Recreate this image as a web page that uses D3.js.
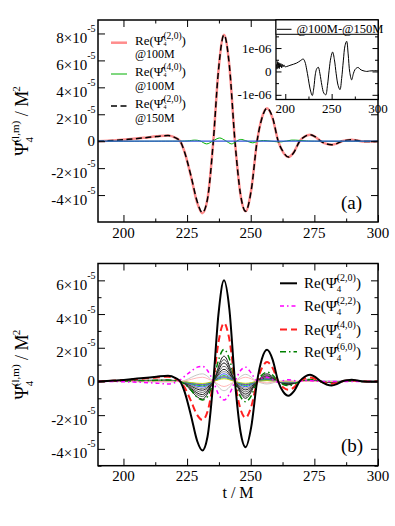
<!DOCTYPE html>
<html><head><meta charset="utf-8">
<script src="https://cdn.jsdelivr.net/npm/d3@7"></script>
<style>
body{margin:0;background:#fff}
svg{display:block}
svg text{font-family:"Liberation Serif","Times New Roman",Times,serif;fill:#000}
</style>
</head><body>
<svg id="c" width="395" height="526" font-family="Liberation Serif, Times New Roman, Times, serif"></svg>
<script>
// ---------------- DATA ----------------
// shared time grid for the main curves (t / M)
const tMain = [190,196,202,208,213,217.5,220.5,222.3,224,226.5,229,231,233,235.3,237.3,239.5,241.6,243.8,246,248,250.2,252.5,254.4,256.4,258.6,260.8,262.8,264.8,267,269.2,271.2,273.3,275.3,277.5,279.8,281.8,283.8,285.8,287.8,289.7,292,294.5,297,300];
// panel (a), values in units of 1e-5
const a_re20_100 = [0,0.06,0.14,0.25,0.36,0.43,0.25,0,-0.8,-2.6,-4.6,-5.35,-4.3,0,5.2,7.9,5.6,0,-4.0,-5.2,-3.6,0,1.75,2.45,1.7,0,-0.85,-1.17,-0.8,0,0.35,0.48,0.33,0,-0.2,-0.26,-0.18,0,0.08,0.11,0.05,-0.02,-0.02,0];
const a_re20_150 = [0,0.06,0.14,0.25,0.35,0.42,0.24,0,-0.8,-2.55,-4.5,-5.3,-4.3,0,5.2,7.9,5.65,0,-3.95,-5.2,-3.65,0,1.7,2.45,1.75,0,-0.8,-1.18,-0.82,0,0.34,0.48,0.33,0,-0.2,-0.26,-0.18,0,0.08,0.11,0.05,-0.02,-0.02,0];
const a_re40_t = [190,215,225,228,230,232.7,235,237.8,240,242.5,244,246,248,250.8,253,255,258,262,266,269,272,275,300];
const a_re40_100 = [0,0,0.02,0.08,0.03,-0.2,0,0.24,0.05,-0.2,-0.05,0.13,0.04,-0.12,0,0.05,0,-0.05,0.08,0.06,0.02,0,0];
const a_blue_t = [190,230,260,300];
const a_blue = [0,0,0,0];
// inset: @100M - @150M, units of 1e-6
const inset_t = [190.5,191.1,191.7,192.3,192.9,193.5,194.1,194.7,195.4,196.1,196.9,197.7,198.6,199.6,201.5,205,209,212.3,216,219.4,221.3,223,224.8,226.8,229.1,230.8,232.5,234,235.6,237.4,239.5,241.5,243.6,245.5,247.3,249.2,251.1,253,254.9,257,259,260.8,262.6,264.4,266.2,267.8,269.6,271.6,273.4,275.2,277,278.7,280.5,282.5,285,287.8,291,295,300];
const inset_v = [0.3,0.1,0.42,0.15,0.38,0.12,0.35,0.2,0.33,0.15,0.3,0.2,0.28,0.2,0.21,0.26,0.31,0.36,0.45,0.53,0.4,0.1,-0.3,-0.75,-1.03,-0.7,-0.1,0.12,0.18,-0.1,-0.6,-0.92,-1.0,-0.6,0.05,0.6,0.83,0.5,-0.1,-0.6,-0.78,-0.3,0.45,1.1,1.29,0.75,-0.05,-0.36,-0.1,0.08,0.15,0.17,0.1,0.05,0.02,0,0.02,0.03,0.03];
// panel (b), units of 1e-5
const b_re20 = [0,0.05,0.12,0.2,0.28,0.34,0.2,0,-0.6,-2.0,-3.55,-4.1,-3.3,0,3.95,6.0,4.3,0,-3.0,-3.9,-2.7,0,1.35,1.88,1.3,0,-0.62,-0.85,-0.58,0,0.28,0.4,0.27,0,-0.18,-0.24,-0.16,0,0.07,0.1,0.05,-0.01,-0.02,0];
const b_re40 = [0,0.04,0.1,0.17,0.24,0.28,0.15,0,-0.35,-1.15,-2.0,-2.28,-1.8,0,2.3,3.47,2.5,0,-1.65,-2.15,-1.5,0,0.8,1.15,0.8,0,-0.36,-0.5,-0.35,0,0.17,0.24,0.16,0,-0.1,-0.14,-0.1,0,0.04,0.06,0.03,0,-0.01,0];
const b_re60 = [0,0.01,0.03,0.05,0.07,0.08,0.04,0,-0.15,-0.5,-0.95,-1.1,-0.9,0,1.25,1.9,1.35,0,-0.9,-1.2,-0.85,0,0.38,0.55,0.38,0,-0.18,-0.25,-0.17,0,0.08,0.12,0.08,0,-0.05,-0.07,-0.05,0,0.02,0.03,0.01,0,0,0];
const b_re22 = [0,0,-0.03,-0.06,-0.1,-0.15,-0.05,0.1,0.3,0.6,0.85,0.9,0.65,0,-0.75,-1.1,-0.75,0,0.65,0.85,0.5,0.05,0.2,0.25,0.1,-0.05,0.05,0.1,0.05,0,0.05,0.05,0.02,0,0,0,0,0,0,0,0,0,0,0];
// other (l,m) modes in panel (b), on a coarse grid
const tMode = [190,217.5,222.3,231,235.3,239.5,243.8,248,252.5,256.4,260.8,264.8,269.2,273.3,277.5,281.8,285.8,300];
const otherModes = [
  {c:"#000000", v:[0,0.08,0,-1.05,0,1.5,0,-1.0,0,0.45,0,-0.2,0,0.09,0,-0.05,0,0]},
  {c:"#444444", v:[0,0.07,0,-0.9,0,1.3,0,-0.88,0,0.38,0,-0.17,0,0.08,0,-0.04,0,0]},
  {c:"#000000", v:[0,0.06,0,-0.78,0,1.1,0,-0.75,0,0.32,0,-0.15,0,0.07,0,-0.03,0,0]},
  {c:"#555555", v:[0,0.05,0,-0.65,0,0.9,0,-0.62,0,0.27,0,-0.12,0,0.05,0,-0.03,0,0]},
  {c:"#000000", v:[0,0.04,0,-0.52,0,0.72,0,-0.5,0,0.21,0,-0.1,0,0.04,0,-0.02,0,0]},
  {c:"#777777", v:[0,0.03,0,-0.42,0,0.58,0,-0.4,0,0.17,0,-0.08,0,0.03,0,-0.01,0,0]},
  {c:"#2040ff", v:[0,0.02,0,-0.33,0,0.45,0,-0.31,0,0.13,0,-0.06,0,0.02,0,0,0,0]},
  {c:"#00cc00", v:[0,0.02,0,-0.26,0,0.35,0,-0.24,0,0.1,0,-0.05,0,0.02,0,0,0,0]},
  {c:"#9900cc", v:[0,0.01,0,-0.2,0,0.28,0,-0.19,0,0.08,0,-0.04,0,0.01,0,0,0,0]},
  {c:"#00aaaa", v:[0,0.01,0,-0.16,0,0.22,0,-0.15,0,0.06,0,-0.03,0,0,0,0,0,0]},
  {c:"#cccc00", v:[0,0.01,0,-0.12,0,0.16,0,-0.11,0,0.05,0,-0.02,0,0,0,0,0,0]},
  {c:"#c0c0c0", v:[0,-0.03,0,0.45,0,-0.55,0,0.42,0,-0.15,0,0.06,0,0,0,0,0,0]},
  {c:"#ffb0b0", v:[0,0,0,0.25,0,-0.3,0,0.25,0,-0.08,0,0.03,0,0,0,0,0,0]}
];
// ticks
const xMajor = [200,225,250,275,300];
const xMinor = [212.5,237.5,262.5,287.5];
const xLabels = ["200","225","250","275","300"];
const yTopMajor = [-4,-2,0,2,4,6,8];
const yBotMajor = [-4,-2,0,2,4,6];
const yBotMinor = [-5,-3,-1,1,3,5];
const insetXMajor = [200,250,300];
const insetXMinor = [225,275];
const insetYMajor = [-1,0,1];
const insetYMinor = [-0.5,0.5,1.5];
const insetYLabels = ["-1e-06","0","1e-06"];

// ---------------- DRAW ----------------
const FONT = "Liberation Serif, Times New Roman, Times, serif";
const PSI = "Ψ\u0302";
const svg = d3.select("#c");
const X0 = 98, X1 = 378;
const xA = d3.scaleLinear([190,300],[X0,X1]);
const yA = d3.scaleLinear([-6e-5,9e-5],[222,20]);
const xB = d3.scaleLinear([190,300],[X0,X1]);
const yB = d3.scaleLinear([-5e-5,7e-5],[465.7,263.5]);
const xI = d3.scaleLinear([190,300],[276,378]);
const yI = d3.scaleLinear([-1.2e-6,2.2e-6],[99.5,20]);

const defs = svg.append("defs");
function clip(id,x,y){
  defs.append("clipPath").attr("id",id).append("rect")
    .attr("x",x.range()[0]).attr("y",y.range()[1])
    .attr("width",x.range()[1]-x.range()[0]).attr("height",y.range()[0]-y.range()[1]);
}
clip("ca",xA,yA); clip("cb",xB,yB); clip("ci",xI,yI);

function ticks(x,y,xMaj,xMin,yMaj,yMin,L,Lm,top){
  const g = svg.append("g");
  const yb=y.range()[0], yt=y.range()[1], xl=x.range()[0], xr=x.range()[1];
  const add=(axis,tr)=>g.append("g").attr("transform",tr).call(axis);
  add(d3.axisBottom(x).tickValues(xMaj).tickSize(-L).tickSizeOuter(0).tickFormat(""),`translate(0,${yb})`);
  add(d3.axisBottom(x).tickValues(xMin).tickSize(-Lm).tickSizeOuter(0).tickFormat(""),`translate(0,${yb})`);
  if(top){
    add(d3.axisTop(x).tickValues(xMaj).tickSize(-L).tickSizeOuter(0).tickFormat(""),`translate(0,${yt})`);
    add(d3.axisTop(x).tickValues(xMin).tickSize(-Lm).tickSizeOuter(0).tickFormat(""),`translate(0,${yt})`);
  }
  add(d3.axisLeft(y).tickValues(yMaj).tickSize(-L).tickSizeOuter(0).tickFormat(""),`translate(${xl},0)`);
  add(d3.axisRight(y).tickValues(yMaj).tickSize(-L).tickSizeOuter(0).tickFormat(""),`translate(${xr},0)`);
  if(yMin.length){
    add(d3.axisLeft(y).tickValues(yMin).tickSize(-Lm).tickSizeOuter(0).tickFormat(""),`translate(${xl},0)`);
    add(d3.axisRight(y).tickValues(yMin).tickSize(-Lm).tickSizeOuter(0).tickFormat(""),`translate(${xr},0)`);
  }
  g.selectAll(".domain").remove();
  g.selectAll("text").remove();
  g.selectAll(".tick line").attr("stroke","#000").attr("stroke-width",1);
  return g;
}

function line(g,x,y,ts,vs,scale,opt){
  const pts = ts.map((t,i)=>[t,vs[i]*scale]);
  g.append("path").datum(pts)
    .attr("d",d3.line().x(d=>x(d[0])).y(d=>y(d[1])).curve(opt.curve||d3.curveMonotoneX))
    .attr("fill","none").attr("stroke",opt.c).attr("stroke-width",opt.w||1)
    .attr("stroke-dasharray",opt.dash||null).attr("stroke-linejoin","round");
}

// measure a string's width
const meas = svg.append("text").attr("font-family",FONT).attr("visibility","hidden");
function wOf(s,fs){ meas.attr("font-size",fs).text(s); return meas.node().getComputedTextLength(); }

// rich text as ONE text element with absolutely placed tspans
function rich(parent,x0,y0,parts,anchor){
  const items=[]; let x=0;
  for(const p of parts){
    if(p.stack){
      let w=0;
      for(const q of p.stack){ items.push({t:q.t,fs:q.fs,x:x,dy:q.dy}); w=Math.max(w,wOf(q.t,q.fs)); }
      x+=w; continue;
    }
    const w=wOf(p.t,p.fs); items.push({t:p.t,fs:p.fs,x:x,dy:p.dy||0}); x+=w;
  }
  const shift = anchor==="middle"?-x/2:anchor==="end"?-x:0;
  const t = parent.append("text").attr("font-family",FONT);
  items.forEach(it=>t.append("tspan").attr("x",x0+shift+it.x).attr("y",y0+it.dy)
    .attr("font-size",it.fs).text(it.t));
  return t;
}
function psiParts(fs,sub,sup,subFs,supFs,subDy,supDy){
  return [{t:"Re(",fs},{t:PSI,fs},
    {stack:[{t:sub,fs:subFs,dy:subDy},{t:sup,fs:supFs,dy:supDy}]},{t:")",fs}];
}

function yLabels(x,y,vals){
  const g=svg.append("g");
  vals.forEach(v=>{
    const yy=y(v*1e-5);
    if(v===0){
      g.append("text").attr("x",95).attr("y",yy+5).attr("font-size",15).attr("text-anchor","end").text("0");
    } else {
      rich(g,95.5,yy+9.5,[{t:v+"×10",fs:15},{t:"-5",fs:10,dy:-11}],"end");
    }
  });
}
function xLabelsDraw(x,y){
  const g=svg.append("g");
  xMajor.forEach((v,i)=>g.append("text").attr("x",x(v)).attr("y",y.range()[0]+15.5)
    .attr("font-size",15).attr("text-anchor","middle").text(xLabels[i]));
}
function yTitle(cy){
  const g=svg.append("g").attr("transform",`translate(28,${cy}) rotate(-90)`);
  rich(g,0,0,[{t:PSI,fs:18},
    {stack:[{t:"4",fs:11,dy:5},{t:"(l,m)",fs:11,dy:-9}]},
    {t:" / M",fs:18},{t:"-2",fs:11,dy:-8}],"middle");
}

// ===== Panel (a) =====
const pa = svg.append("g").attr("clip-path","url(#ca)");
line(pa,xA,yA,tMain,a_re20_100,1e-5,{c:"#ff8c8c",w:2.5});
line(pa,xA,yA,tMain,a_re20_150,1e-5,{c:"#000",w:1.5,dash:"6,3.5"});
line(pa,xA,yA,a_re40_t,a_re40_100,1e-5,{c:"#00b000",w:1,curve:d3.curveCatmullRom});
line(pa,xA,yA,a_blue_t,a_blue,1e-5,{c:"#3355dd",w:1.2});
ticks(xA,yA,xMajor,xMinor,yTopMajor.map(v=>v*1e-5),[],7,3.5,true);
svg.append("rect").attr("x",X0).attr("y",20).attr("width",X1-X0).attr("height",202)
  .attr("fill","none").attr("stroke","#000").attr("stroke-width",1.5);
yLabels(xA,yA,yTopMajor);
xLabelsDraw(xA,yA);
yTitle(121);
svg.append("text").attr("x",341).attr("y",209).attr("font-size",19).text("(a)");

// legend (a)
const legA = [
  {y:42.7,c:"#ff8c8c",w:2.5,dash:null,sup:"(2,0)",l2:"@100M"},
  {y:74,c:"#00b000",w:1,dash:null,sup:"(4,0)",l2:"@100M"},
  {y:106,c:"#000",w:1.5,dash:"6,3.5",sup:"(2,0)",l2:"@150M"}
];
legA.forEach(d=>{
  svg.append("line").attr("x1",111).attr("x2",127).attr("y1",d.y).attr("y2",d.y)
    .attr("stroke",d.c).attr("stroke-width",d.w).attr("stroke-dasharray",d.dash);
  rich(svg,135,d.y+1.8,psiParts(13,"4",d.sup,6,9.5,1.5,-6),"start");
  svg.append("text").attr("x",135).attr("y",d.y+15.5).attr("font-size",12).text(d.l2);
});

// inset
svg.append("rect").attr("x",276).attr("y",20).attr("width",102).attr("height",79.5)
  .attr("fill","#fff").attr("stroke","none");
const pi = svg.append("g").attr("clip-path","url(#ci)");
line(pi,xI,yI,inset_t,inset_v,1e-6,{c:"#000",w:1,curve:d3.curveCatmullRom});
ticks(xI,yI,insetXMajor,insetXMinor,insetYMajor.map(v=>v*1e-6),insetYMinor.map(v=>v*1e-6),5.5,3,false);
svg.append("rect").attr("x",276).attr("y",20).attr("width",102).attr("height",79.5)
  .attr("fill","none").attr("stroke","#000").attr("stroke-width",1.3);
svg.append("rect").attr("x",276).attr("y",20).attr("width",102).attr("height",14.3)
  .attr("fill","#fff").attr("stroke","#000").attr("stroke-width",1);
svg.append("line").attr("x1",277).attr("x2",291.5).attr("y1",29.3).attr("y2",29.3).attr("stroke","#000").attr("stroke-width",1);
svg.append("text").attr("x",296.5).attr("y",32.5).attr("font-size",12.5).text("@100M-@150M");
insetYMajor.forEach((v,i)=>svg.append("text").attr("x",271.5).attr("y",yI(v*1e-6)+4.5)
  .attr("font-size",13).attr("text-anchor","end").text(insetYLabels[i]));
insetXMajor.forEach(v=>svg.append("text").attr("x",xI(v)).attr("y",112.5)
  .attr("font-size",13).attr("text-anchor","middle").text(String(v)));

// ===== Panel (b) =====
const pb = svg.append("g").attr("clip-path","url(#cb)");
otherModes.forEach(m=>line(pb,xB,yB,tMode,m.v,1e-5,{c:m.c,w:0.9}));
line(pb,xB,yB,tMain,b_re60,1e-5,{c:"#008000",w:1.5,dash:"6,3,1.5,3"});
line(pb,xB,yB,tMain,b_re40,1e-5,{c:"#ff2020",w:2,dash:"7,4"});
line(pb,xB,yB,tMain,b_re22,1e-5,{c:"#ff00ff",w:1.5,dash:"4,3,1.5,3"});
line(pb,xB,yB,tMain,b_re20,1e-5,{c:"#000",w:2});
ticks(xB,yB,xMajor,xMinor,yBotMajor.map(v=>v*1e-5),yBotMinor.map(v=>v*1e-5),7,3.5,true);
svg.append("rect").attr("x",X0).attr("y",263.5).attr("width",X1-X0).attr("height",202.2)
  .attr("fill","none").attr("stroke","#000").attr("stroke-width",1.5);
yLabels(xB,yB,yBotMajor);
xLabelsDraw(xB,yB);
yTitle(364.6);
svg.append("text").attr("x",341).attr("y",451.5).attr("font-size",19).text("(b)");
svg.append("text").attr("x",238).attr("y",497.5).attr("font-size",16).attr("text-anchor","middle").text("t / M");

// legend (b)
const legB = [
  {y:283.3,c:"#000",w:2,dash:null,sup:"(2,0)"},
  {y:306,c:"#ff00ff",w:1.5,dash:"4,3,1.5,3",sup:"(2,2)"},
  {y:329.5,c:"#ff2020",w:2,dash:"7,4",sup:"(4,0)"},
  {y:351.7,c:"#008000",w:1.5,dash:"6,3,1.5,3",sup:"(6,0)"}
];
legB.forEach(d=>{
  svg.append("line").attr("x1",280).attr("x2",297).attr("y1",d.y).attr("y2",d.y)
    .attr("stroke",d.c).attr("stroke-width",d.w).attr("stroke-dasharray",d.dash);
  rich(svg,304,d.y+5,psiParts(15,"4",d.sup,9,10,4,-7),"start");
});
meas.remove();
</script>
</body></html>
